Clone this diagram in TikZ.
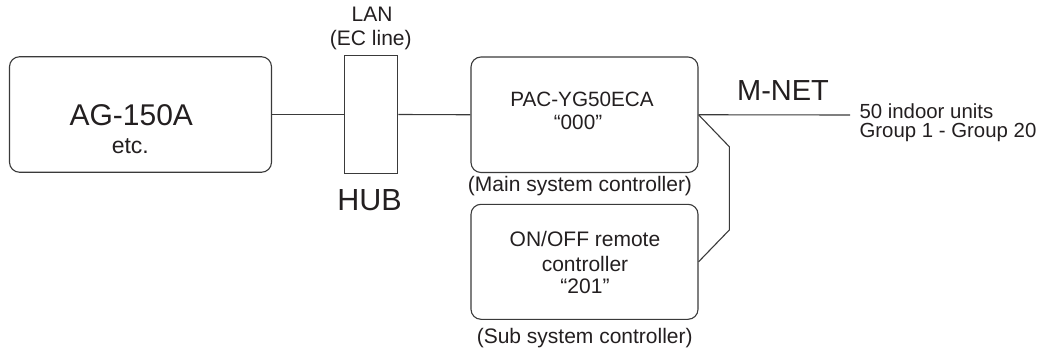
\documentclass[tikz,border=0pt]{standalone}
\usepackage{fontspec}
\setmainfont{Liberation Sans}
\definecolor{ink}{HTML}{231F20}
\definecolor{wireclr}{HTML}{3A3A3A}
\begin{document}
\begin{tikzpicture}[x=1pt,y=-1pt,
  box/.style={draw=wireclr,line width=1.1pt,rounded corners=10pt,inner sep=0pt},
  hubbox/.style={draw=wireclr,line width=1.1pt,inner sep=0pt},
  wire/.style={draw=wireclr,line width=1.1pt},
  txt/.style={anchor=base,inner sep=0pt,text=ink,font=\fontsize{#1}{#1}\selectfont},
  ltxt/.style={anchor=base west,inner sep=0pt,text=ink,align=left,font=\fontsize{#1}{18.6}\selectfont}]
\useasboundingbox (0,0) rectangle (1046,353);
% boxes
\node[box,minimum width=262pt,minimum height=115.5pt] (ag) at (140.5,114.5) {};
\node[hubbox,minimum width=53.5pt,minimum height=117.5pt] (hub) at (371,114.5) {};
\node[box,minimum width=227pt,minimum height=115.5pt] (pac) at (584.5,114.75) {};
\node[box,minimum width=227pt,minimum height=115pt] (onoff) at (584.5,261.8) {};
% texts
\node[txt=30] (t1) at (131.3,125) {AG-150A};
\node[txt=23] (t2) at (130.3,153.3) {etc.};
\node[txt=21] (t3) at (372,21.7) {LAN};
\node[txt=21] (t4) at (370.8,45.5) {(EC line)};
\node[txt=30.5] (t5) at (369.5,210.7) {HUB};
\node[txt=20.7] (t6) at (582,106.7) {PAC-YG50ECA};
\node[txt=20.7] (t7) at (578,129) {“000”};
\node[txt=21] (t8) at (580,191.7) {(Main system controller)};
\node[txt=21] (t9) at (585,246.3) {ON/OFF remote};
\node[txt=21] (t10) at (585,271) {controller};
\node[txt=21] (t11) at (585,293.3) {“201”};
\node[txt=21] (t12) at (584.7,343.3) {(Sub system controller)};
\node[txt=29] (t13) at (783,100) {M-NET};
\node[ltxt=20.4] (t14) at (859.3,137) {50 indoor units\\Group 1 - Group 20};
% connectors
\coordinate (mend) at (850,115);
\coordinate (b1) at (729.3,146.7);
\coordinate (b2) at (729.3,230);
\draw[wire] (ag.east) -- (hub.west);
\draw[wire] (hub.east) -- (pac.west);
\draw[wire] (pac.east) -- (mend);
\draw[wire] (pac.east) -- (b1) -- (b2) -- (onoff.east);
\end{tikzpicture}
\end{document}
